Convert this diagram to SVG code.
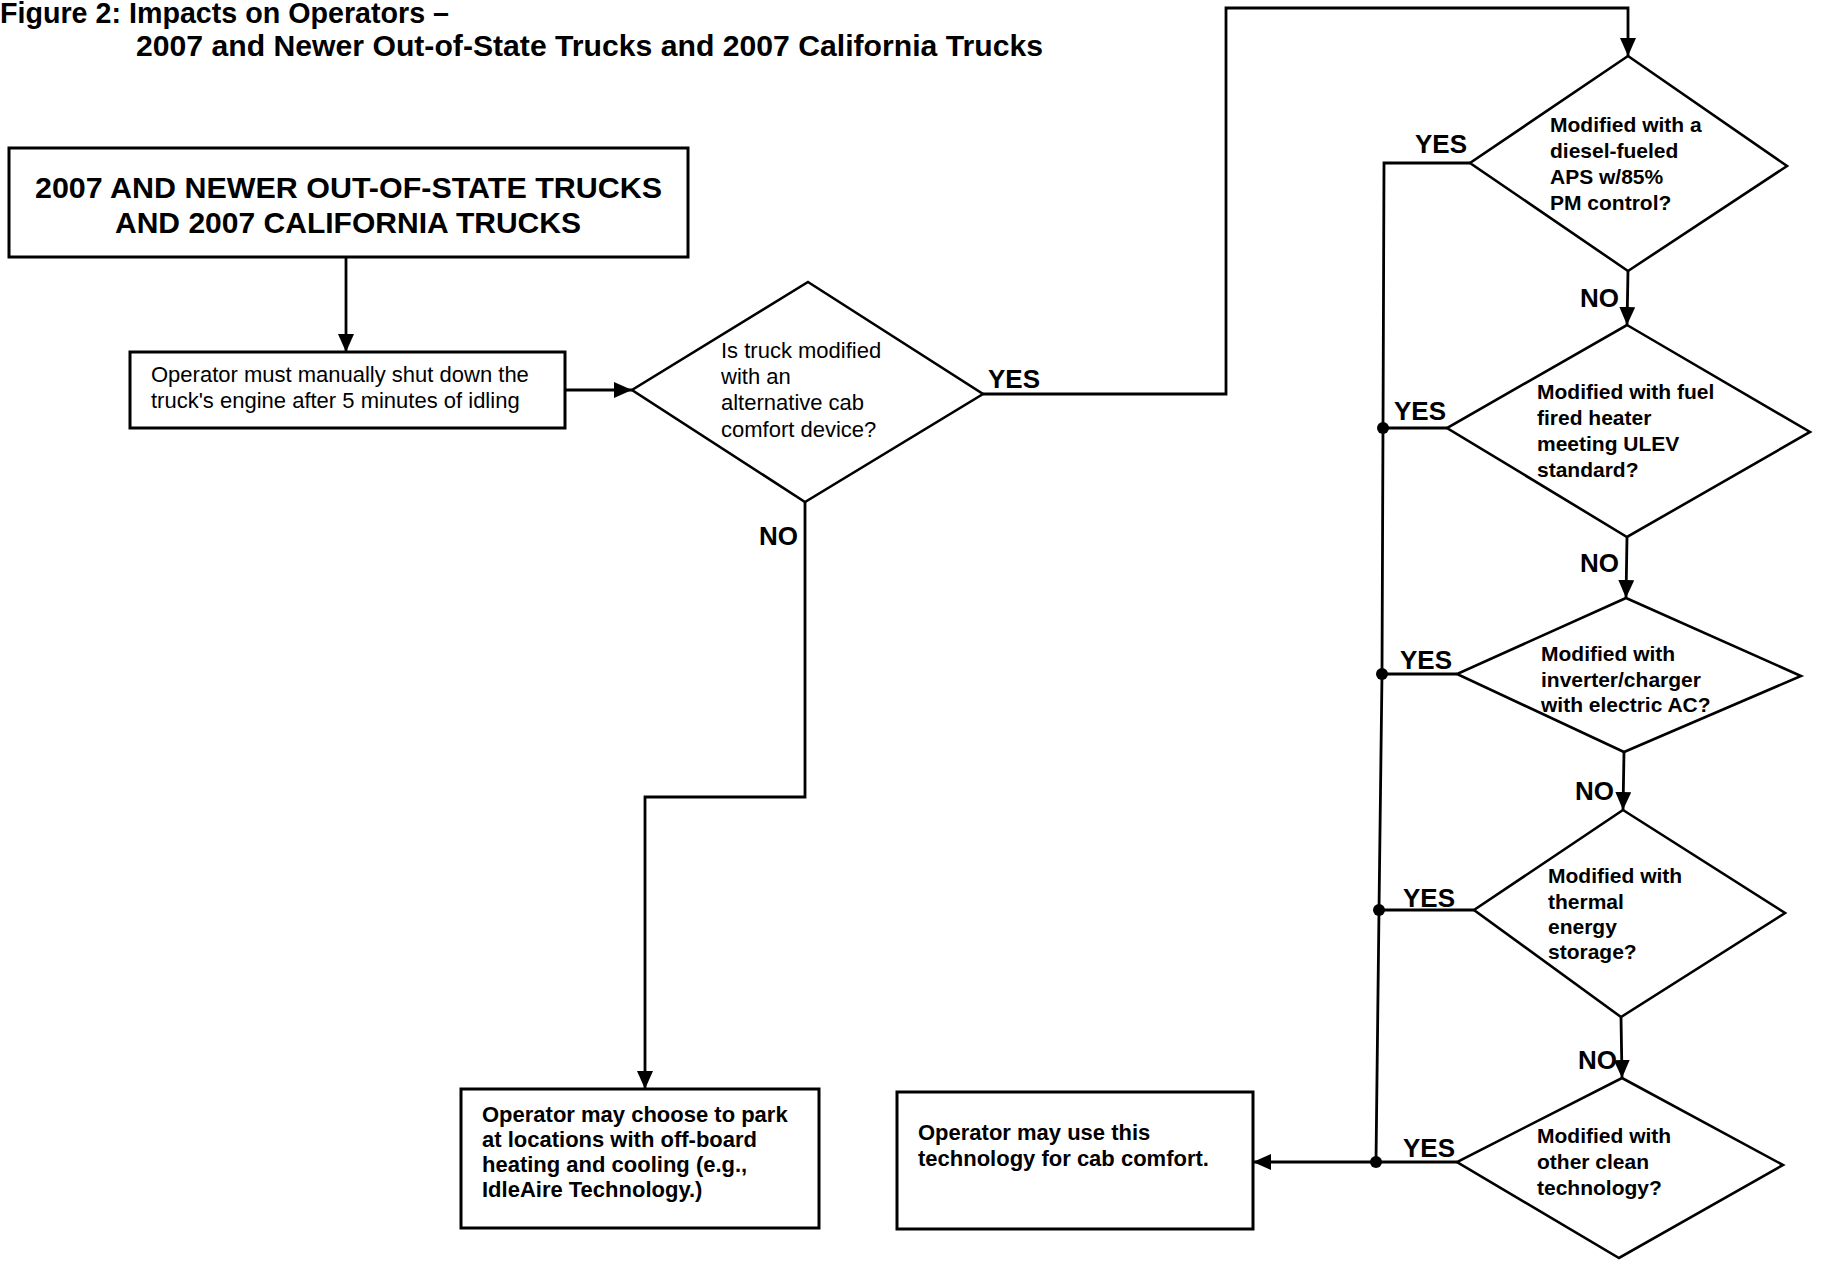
<svg xmlns="http://www.w3.org/2000/svg" width="1822" height="1261" viewBox="0 0 1822 1261">
<defs>
<style>
text{font-family:"Liberation Sans",Arial,sans-serif;fill:#000}
.t{font-size:29px;font-weight:bold}
.h{font-size:30px;font-weight:bold}
.r{font-size:22px}
.b{font-size:21px;font-weight:bold}
.bb{font-size:22px;font-weight:bold}
.lab{font-size:26px;font-weight:bold}
.box{fill:#fff;stroke:#000;stroke-width:3}
.dia{fill:#fff;stroke:#000;stroke-width:2.6}
.ln{fill:none;stroke:#000;stroke-width:2.8}
.dot{fill:#000}
</style>
<marker id="arr" markerUnits="userSpaceOnUse" markerWidth="20" markerHeight="16" refX="18" refY="8" orient="auto">
<path d="M0,0 L18,8 L0,16 Z" fill="#000"/>
</marker>
</defs>
<rect width="1822" height="1261" fill="#fff"/>

<g id="title">
<text class="t" x="0" y="23" textLength="449" lengthAdjust="spacingAndGlyphs">Figure 2: Impacts on Operators –</text>
<text class="t" x="136" y="56" textLength="907" lengthAdjust="spacingAndGlyphs">2007 and Newer Out-of-State Trucks and 2007 California Trucks</text>
</g>

<g id="connectors">
<line class="ln" x1="346" y1="257" x2="346" y2="352" marker-end="url(#arr)"/>
<line class="ln" x1="565" y1="390" x2="632" y2="390" marker-end="url(#arr)"/>
<polyline class="ln" points="983,394 1226,394 1226,8 1628,8 1628,56" marker-end="url(#arr)"/>
<polyline class="ln" points="805,502 805,797 645,797 645,1089" marker-end="url(#arr)"/>
<line class="ln" x1="1628" y1="271" x2="1627" y2="325" marker-end="url(#arr)"/>
<line class="ln" x1="1627" y1="537" x2="1626" y2="598" marker-end="url(#arr)"/>
<line class="ln" x1="1624" y1="752" x2="1623" y2="810" marker-end="url(#arr)"/>
<line class="ln" x1="1621" y1="1017" x2="1622" y2="1078" marker-end="url(#arr)"/>
<polyline class="ln" points="1470,163 1384,163 1383,428 1382,674 1379,910 1376,1162"/>
<line class="ln" x1="1447" y1="428" x2="1383" y2="428"/>
<line class="ln" x1="1457" y1="674" x2="1382" y2="674"/>
<line class="ln" x1="1474" y1="910" x2="1379" y2="910"/>
<line class="ln" x1="1457" y1="1162" x2="1253" y2="1162" marker-end="url(#arr)"/>
<circle class="dot" cx="1383" cy="428" r="6"/>
<circle class="dot" cx="1382" cy="674" r="6"/>
<circle class="dot" cx="1379" cy="910" r="6"/>
<circle class="dot" cx="1376" cy="1162" r="6"/>
<text class="lab" x="988" y="388">YES</text>
<text class="lab" x="759" y="545">NO</text>
<text class="lab" x="1415" y="153">YES</text>
<text class="lab" x="1580" y="307">NO</text>
<text class="lab" x="1394" y="420">YES</text>
<text class="lab" x="1580" y="572">NO</text>
<text class="lab" x="1400" y="669">YES</text>
<text class="lab" x="1575" y="800">NO</text>
<text class="lab" x="1403" y="907">YES</text>
<text class="lab" x="1578" y="1069">NO</text>
<text class="lab" x="1403" y="1157">YES</text>
</g>

<g id="start">
<rect class="box" x="9" y="148" width="679" height="109"/>
<text class="h" x="35" y="198" textLength="627" lengthAdjust="spacingAndGlyphs">2007 AND NEWER OUT-OF-STATE TRUCKS</text>
<text class="h" x="115" y="233" textLength="466" lengthAdjust="spacingAndGlyphs">AND 2007 CALIFORNIA TRUCKS</text>
</g>

<g id="shutdown">
<rect class="box" x="130" y="352" width="435" height="76"/>
<text class="r" x="151" y="382">Operator must manually shut down the</text>
<text class="r" x="151" y="408">truck's engine after 5 minutes of idling</text>
</g>

<g id="q-alt">
<polygon class="dia" points="808,282 983,394 805,502 632,390"/>
<text class="r" x="721" y="358">Is truck modified</text>
<text class="r" x="721" y="384">with an</text>
<text class="r" x="721" y="410">alternative cab</text>
<text class="r" x="721" y="437">comfort device?</text>
</g>

<g id="q-aps">
<polygon class="dia" points="1628,56 1787,166 1628,271 1470,163"/>
<text class="b" x="1550" y="132">Modified with a</text>
<text class="b" x="1550" y="158">diesel-fueled</text>
<text class="b" x="1550" y="184">APS w/85%</text>
<text class="b" x="1550" y="210">PM control?</text>
</g>

<g id="q-heater">
<polygon class="dia" points="1627,325 1810,432 1627,537 1447,428"/>
<text class="b" x="1537" y="399">Modified with fuel</text>
<text class="b" x="1537" y="425">fired heater</text>
<text class="b" x="1537" y="451">meeting ULEV</text>
<text class="b" x="1537" y="477">standard?</text>
</g>

<g id="q-inverter">
<polygon class="dia" points="1626,598 1801,676 1624,752 1457,674"/>
<text class="b" x="1541" y="661">Modified with</text>
<text class="b" x="1541" y="687">inverter/charger</text>
<text class="b" x="1541" y="712">with electric AC?</text>
</g>

<g id="q-thermal">
<polygon class="dia" points="1623,810 1785,913 1621,1017 1474,910"/>
<text class="b" x="1548" y="883">Modified with</text>
<text class="b" x="1548" y="909">thermal</text>
<text class="b" x="1548" y="934">energy</text>
<text class="b" x="1548" y="959">storage?</text>
</g>

<g id="q-other">
<polygon class="dia" points="1622,1078 1783,1165 1619,1258 1457,1162"/>
<text class="b" x="1537" y="1143">Modified with</text>
<text class="b" x="1537" y="1169">other clean</text>
<text class="b" x="1537" y="1195">technology?</text>
</g>

<g id="offboard">
<rect class="box" x="461" y="1089" width="358" height="139"/>
<text class="bb" x="482" y="1122">Operator may choose to park</text>
<text class="bb" x="482" y="1147">at locations with off-board</text>
<text class="bb" x="482" y="1172">heating and cooling (e.g.,</text>
<text class="bb" x="482" y="1197">IdleAire Technology.)</text>
</g>

<g id="use-tech">
<rect class="box" x="897" y="1092" width="356" height="137"/>
<text class="bb" x="918" y="1140">Operator may use this</text>
<text class="bb" x="918" y="1166">technology for cab comfort.</text>
</g>
</svg>
